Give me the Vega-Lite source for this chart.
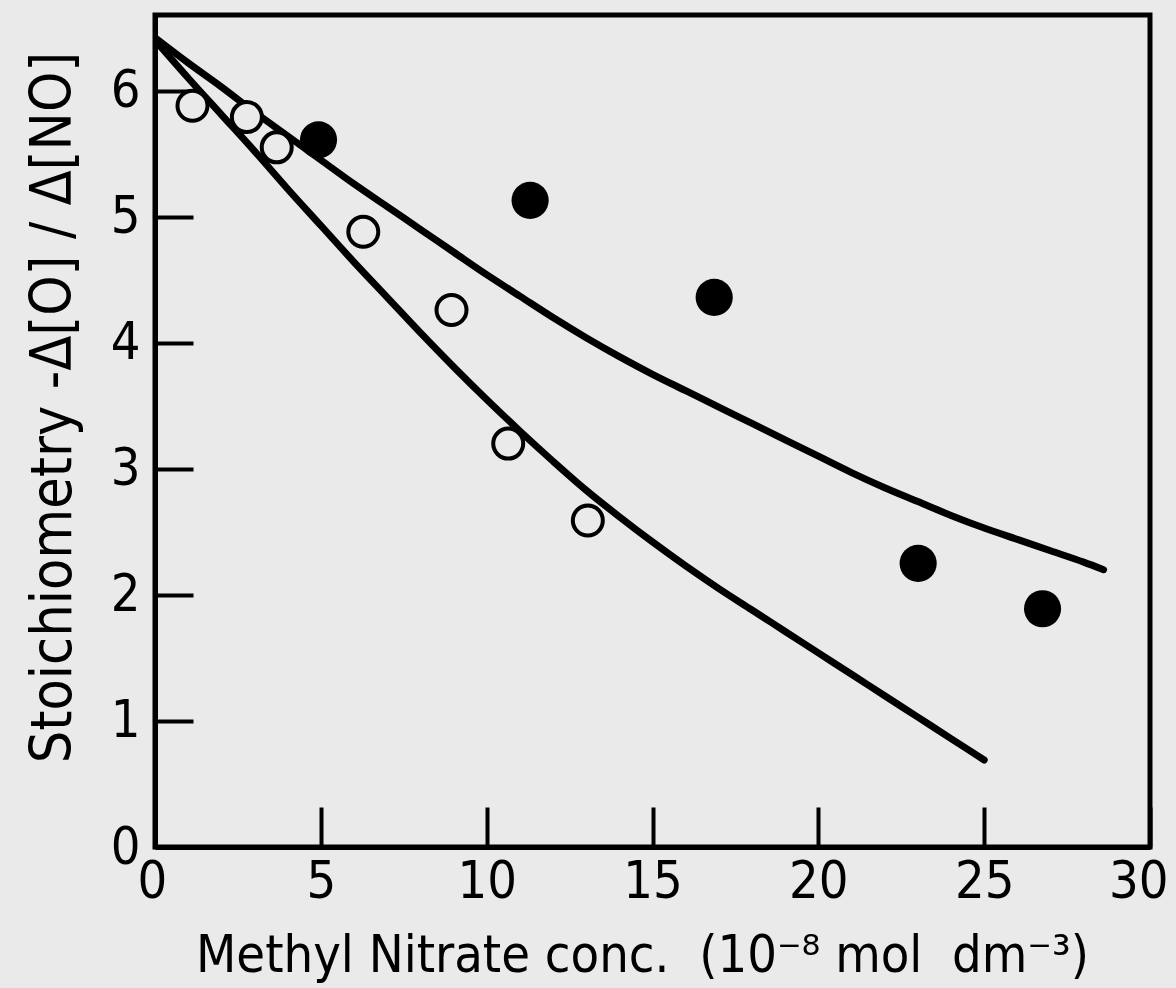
{
  "$schema": "https://vega.github.io/schema/vega-lite/v6.json",
  "width": 995,
  "height": 832,
  "autosize": {"type": "none"},
  "padding": {"left": 155, "top": 15, "right": 26, "bottom": 141},
  "background": "#eaeaea",
  "config": {
    "view": {"stroke": "black", "strokeWidth": 5},
    "axis": {
      "grid": false,
      "domainColor": "black",
      "domainWidth": 5,
      "tickColor": "black",
      "tickWidth": 4,
      "labelFont": "DejaVu Sans Condensed, DejaVu Sans",
      "labelFontSize": 52,
      "labelColor": "black",
      "labelFlush": false,
      "labelOverlap": false,
      "titleFont": "DejaVu Sans Condensed, DejaVu Sans",
      "titleFontWeight": "normal",
      "titleColor": "black",
      "titleBaseline": "alphabetic"
    }
  },
  "datasets": {
    "curves": [
      {"curve": "upper", "x": 0, "y": 6.42},
      {"curve": "upper", "x": 1, "y": 6.22},
      {"curve": "upper", "x": 2, "y": 6.03},
      {"curve": "upper", "x": 3, "y": 5.83},
      {"curve": "upper", "x": 4, "y": 5.64},
      {"curve": "upper", "x": 5, "y": 5.45},
      {"curve": "upper", "x": 6, "y": 5.26},
      {"curve": "upper", "x": 7, "y": 5.08},
      {"curve": "upper", "x": 8, "y": 4.90},
      {"curve": "upper", "x": 9, "y": 4.72},
      {"curve": "upper", "x": 10, "y": 4.54},
      {"curve": "upper", "x": 11, "y": 4.37},
      {"curve": "upper", "x": 12, "y": 4.20},
      {"curve": "upper", "x": 13, "y": 4.04},
      {"curve": "upper", "x": 14, "y": 3.89},
      {"curve": "upper", "x": 15, "y": 3.75},
      {"curve": "upper", "x": 16, "y": 3.62},
      {"curve": "upper", "x": 17, "y": 3.49},
      {"curve": "upper", "x": 18, "y": 3.36},
      {"curve": "upper", "x": 19, "y": 3.23},
      {"curve": "upper", "x": 20, "y": 3.10},
      {"curve": "upper", "x": 21, "y": 2.97},
      {"curve": "upper", "x": 22, "y": 2.85},
      {"curve": "upper", "x": 23, "y": 2.74},
      {"curve": "upper", "x": 24, "y": 2.63},
      {"curve": "upper", "x": 25, "y": 2.53},
      {"curve": "upper", "x": 26, "y": 2.44},
      {"curve": "upper", "x": 27, "y": 2.35},
      {"curve": "upper", "x": 28, "y": 2.26},
      {"curve": "upper", "x": 28.6, "y": 2.20},
      {"curve": "lower", "x": 0, "y": 6.40},
      {"curve": "lower", "x": 1, "y": 6.10},
      {"curve": "lower", "x": 2, "y": 5.81},
      {"curve": "lower", "x": 3, "y": 5.52},
      {"curve": "lower", "x": 4, "y": 5.22},
      {"curve": "lower", "x": 5, "y": 4.93},
      {"curve": "lower", "x": 6, "y": 4.64},
      {"curve": "lower", "x": 7, "y": 4.36},
      {"curve": "lower", "x": 8, "y": 4.08},
      {"curve": "lower", "x": 9, "y": 3.81},
      {"curve": "lower", "x": 10, "y": 3.55},
      {"curve": "lower", "x": 11, "y": 3.30},
      {"curve": "lower", "x": 12, "y": 3.06},
      {"curve": "lower", "x": 13, "y": 2.83},
      {"curve": "lower", "x": 14, "y": 2.62},
      {"curve": "lower", "x": 15, "y": 2.42},
      {"curve": "lower", "x": 16, "y": 2.23},
      {"curve": "lower", "x": 17, "y": 2.05},
      {"curve": "lower", "x": 18, "y": 1.88},
      {"curve": "lower", "x": 19, "y": 1.71},
      {"curve": "lower", "x": 20, "y": 1.54},
      {"curve": "lower", "x": 21, "y": 1.37},
      {"curve": "lower", "x": 22, "y": 1.20},
      {"curve": "lower", "x": 23, "y": 1.03},
      {"curve": "lower", "x": 24, "y": 0.86},
      {"curve": "lower", "x": 25, "y": 0.69}
    ],
    "points": [
      {"type": "open", "x": 1.13, "y": 5.88},
      {"type": "open", "x": 2.77, "y": 5.79},
      {"type": "open", "x": 3.67, "y": 5.55},
      {"type": "open", "x": 6.28, "y": 4.88},
      {"type": "open", "x": 8.94, "y": 4.26},
      {"type": "open", "x": 10.65, "y": 3.20},
      {"type": "open", "x": 13.05, "y": 2.59},
      {"type": "filled", "x": 4.93, "y": 5.61},
      {"type": "filled", "x": 11.31, "y": 5.13},
      {"type": "filled", "x": 16.86, "y": 4.36},
      {"type": "filled", "x": 23.01, "y": 2.25},
      {"type": "filled", "x": 26.76, "y": 1.89}
    ]
  },
  "layer": [
    {
      "data": {"name": "curves"},
      "mark": {"type": "line", "color": "black", "strokeWidth": 7, "strokeCap": "round", "interpolate": "monotone", "clip": true},
      "encoding": {
        "x": {
          "field": "x", "type": "quantitative",
          "scale": {"domain": [0, 30], "nice": false, "zero": false},
          "axis": {
            "values": [0, 5, 10, 15, 20, 25, 30],
            "format": "d",
            "tickSize": -40,
            "labelPadding": 49,
            "labelFlush": true,
            "labelFlushOffset": 18,
            "title": "Methyl Nitrate conc.\u00a0 (10⁻⁸ mol\u00a0 dm⁻³)",
            "titleFontSize": 52,
            "titleX": 487,
            "titleY": 124
          }
        },
        "y": {
          "field": "y", "type": "quantitative",
          "scale": {"domain": [0, 6.6], "nice": false, "zero": false},
          "axis": {
            "values": [0, 1, 2, 3, 4, 5, 6],
            "format": "d",
            "tickSize": -38,
            "labelPadding": 53,
            "title": "Stoichiometry -Δ[O] / Δ[NO]",
            "titleFontSize": 57,
            "titleX": -85,
            "titleY": 392
          }
        },
        "detail": {"field": "curve"}
      }
    },
    {
      "data": {"name": "points"},
      "transform": [{"filter": "datum.type === 'open'"}],
      "mark": {"type": "point", "shape": "circle", "filled": true, "fill": "#eaeaea", "stroke": "black", "strokeWidth": 4, "size": 900, "opacity": 1},
      "encoding": {
        "x": {"field": "x", "type": "quantitative"},
        "y": {"field": "y", "type": "quantitative"}
      }
    },
    {
      "data": {"name": "points"},
      "transform": [{"filter": "datum.type === 'filled'"}],
      "mark": {"type": "point", "shape": "circle", "filled": true, "color": "black", "size": 1380, "opacity": 1},
      "encoding": {
        "x": {"field": "x", "type": "quantitative"},
        "y": {"field": "y", "type": "quantitative"}
      }
    }
  ]
}
